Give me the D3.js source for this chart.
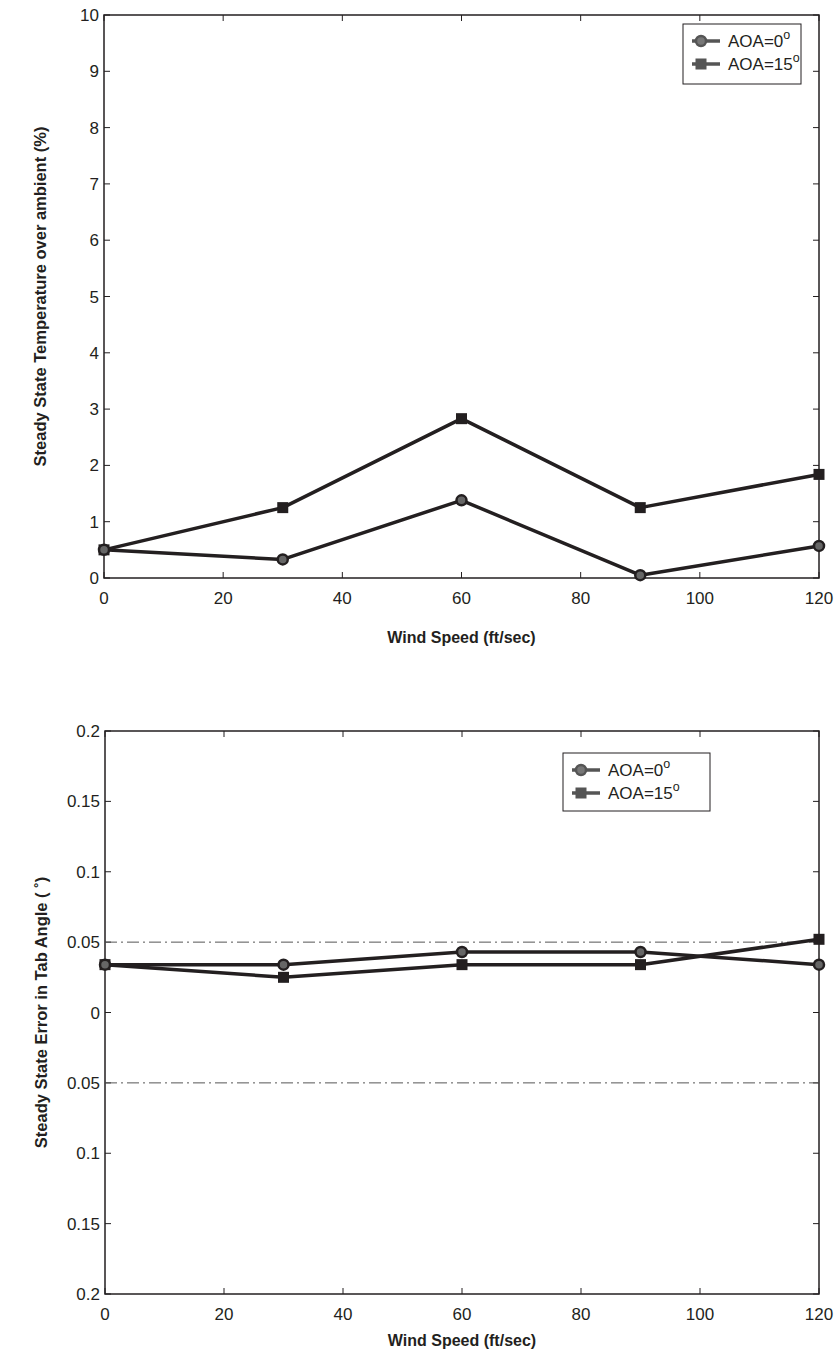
<!DOCTYPE html>
<html>
<head>
<meta charset="utf-8">
<script src="https://cdn.jsdelivr.net/npm/d3@7"></script>
<style>
  body { margin: 0; background: #fff; }
  svg text { font-family: "Liberation Sans", Arial, sans-serif; fill: #231f20; }
</style>
</head>
<body>
<div id="chart"></div>
<script>
// data
var windSpeed = [0, 30, 60, 90, 120];
var xTicks = [0, 20, 40, 60, 80, 100, 120];

var tempAoa0 = [0.5, 0.33, 1.38, 0.05, 0.57];
var tempAoa15 = [0.5, 1.25, 2.83, 1.25, 1.84];
var tempTicks = [0, 1, 2, 3, 4, 5, 6, 7, 8, 9, 10];

var errAoa0 = [0.034, 0.034, 0.043, 0.043, 0.034];
var errAoa15 = [0.034, 0.025, 0.034, 0.034, 0.052];
var errTicks = [-0.2, -0.15, -0.1, -0.05, 0, 0.05, 0.1, 0.15, 0.2];
var errLimits = [0.05, -0.05];

var seriesNames = ["AOA=0", "AOA=15"];

var W = 837, H = 1358, ink = "#231f20";

var svg = d3.select("#chart").append("svg")
    .attr("width", W).attr("height", H);

function drawPanel(opt) {
    var x = d3.scaleLinear().domain([0, 120]).range([opt.left, opt.right]);
    var y = d3.scaleLinear().domain(opt.yDomain).range([opt.bottom, opt.top]);
    var g = svg.append("g");

    // box
    g.append("rect")
        .attr("x", opt.left).attr("y", opt.top)
        .attr("width", opt.right - opt.left).attr("height", opt.bottom - opt.top)
        .attr("fill", "none").attr("stroke", ink).attr("stroke-width", 1.5);

    // ticks inside, all four sides
    var tl = 6;
    xTicks.forEach(function (t) {
        g.append("line").attr("x1", x(t)).attr("x2", x(t))
            .attr("y1", opt.bottom).attr("y2", opt.bottom - tl)
            .attr("stroke", ink).attr("stroke-width", 1);
        g.append("line").attr("x1", x(t)).attr("x2", x(t))
            .attr("y1", opt.top).attr("y2", opt.top + tl)
            .attr("stroke", ink).attr("stroke-width", 1);
        g.append("text").attr("x", x(t)).attr("y", opt.bottom + 26)
            .attr("text-anchor", "middle").attr("font-size", 17).text(t);
    });
    opt.yTicks.forEach(function (t) {
        g.append("line").attr("x1", opt.left).attr("x2", opt.left + tl)
            .attr("y1", y(t)).attr("y2", y(t))
            .attr("stroke", ink).attr("stroke-width", 1);
        g.append("line").attr("x1", opt.right).attr("x2", opt.right - tl)
            .attr("y1", y(t)).attr("y2", y(t))
            .attr("stroke", ink).attr("stroke-width", 1);
        g.append("text").attr("x", opt.left - 5).attr("y", y(t) + 6)
            .attr("text-anchor", "end").attr("font-size", 17).text(opt.fmt(t));
    });

    // dash-dot reference lines
    (opt.refs || []).forEach(function (r) {
        g.append("line").attr("x1", opt.left).attr("x2", opt.right)
            .attr("y1", y(r)).attr("y2", y(r))
            .attr("stroke", "#555").attr("stroke-width", 1)
            .attr("stroke-dasharray", "12,4,2,4");
    });

    var line = d3.line()
        .x(function (d, i) { return x(windSpeed[i]); })
        .y(function (d) { return y(d); });

    // square series first, circle on top
    g.append("path").datum(opt.s15).attr("d", line)
        .attr("fill", "none").attr("stroke", ink).attr("stroke-width", 3.5)
        .attr("stroke-linejoin", "round");
    g.append("path").datum(opt.s0).attr("d", line)
        .attr("fill", "none").attr("stroke", ink).attr("stroke-width", 3.5)
        .attr("stroke-linejoin", "round");

    g.selectAll(".sq").data(opt.s15).enter().append("rect")
        .attr("x", function (d, i) { return x(windSpeed[i]) - 5.5; })
        .attr("y", function (d) { return y(d) - 5.5; })
        .attr("width", 11).attr("height", 11).attr("fill", ink);
    g.selectAll(".ci").data(opt.s0).enter().append("circle")
        .attr("cx", function (d, i) { return x(windSpeed[i]); })
        .attr("cy", function (d) { return y(d); })
        .attr("r", 5).attr("fill", "#666").attr("stroke", ink).attr("stroke-width", 2.5);

    // axis labels
    g.append("text").attr("x", (opt.left + opt.right) / 2).attr("y", opt.bottom + opt.xlabDy)
        .attr("text-anchor", "middle").attr("font-size", 16).attr("font-weight", "bold")
        .text("Wind Speed (ft/sec)");
    g.append("text")
        .attr("transform", "translate(" + (opt.left - 58) + "," + ((opt.top + opt.bottom) / 2) + ") rotate(-90)")
        .attr("text-anchor", "middle").attr("font-size", 16.5).attr("font-weight", "bold")
        .text(opt.ylabel);

    // legend
    var L = opt.legend;
    var lg = g.append("g");
    lg.append("rect").attr("x", L.x).attr("y", L.y).attr("width", L.w).attr("height", L.h)
        .attr("fill", "#fff").attr("stroke", ink).attr("stroke-width", 1);
    seriesNames.forEach(function (name, i) {
        var cy = L.y + 17 + i * 23;
        lg.append("line").attr("x1", L.x + 9).attr("x2", L.x + 37)
            .attr("y1", cy).attr("y2", cy).attr("stroke", "#555").attr("stroke-width", 3.5);
        if (i === 0) {
            lg.append("circle").attr("cx", L.x + 18).attr("cy", cy).attr("r", 5)
                .attr("fill", "#777").attr("stroke", "#555").attr("stroke-width", 2.5);
        } else {
            lg.append("rect").attr("x", L.x + 12.5).attr("y", cy - 5.5)
                .attr("width", 11).attr("height", 11).attr("fill", "#555");
        }
        var t = lg.append("text").attr("x", L.x + 45).attr("y", cy + 6).attr("font-size", 17);
        t.append("tspan").text(name);
        t.append("tspan").attr("dy", -8).attr("font-size", 12.5).text("o");
    });
}

drawPanel({
    left: 104, right: 819, top: 15, bottom: 578,
    yDomain: [0, 10], yTicks: tempTicks,
    fmt: function (t) { return t; },
    s0: tempAoa0, s15: tempAoa15,
    xlabDy: 65,
    ylabel: "Steady State Temperature over ambient (%)",
    legend: { x: 683, y: 24, w: 118, h: 60 }
});

drawPanel({
    left: 105, right: 819, top: 731, bottom: 1294,
    yDomain: [-0.2, 0.2], yTicks: errTicks,
    fmt: function (t) { return String(Math.abs(t)); },
    refs: errLimits,
    s0: errAoa0, s15: errAoa15,
    xlabDy: 52,
    ylabel: "Steady State Error in Tab Angle ( \u02DA)",
    legend: { x: 563, y: 753, w: 147, h: 58 }
});
</script>
</body>
</html>
